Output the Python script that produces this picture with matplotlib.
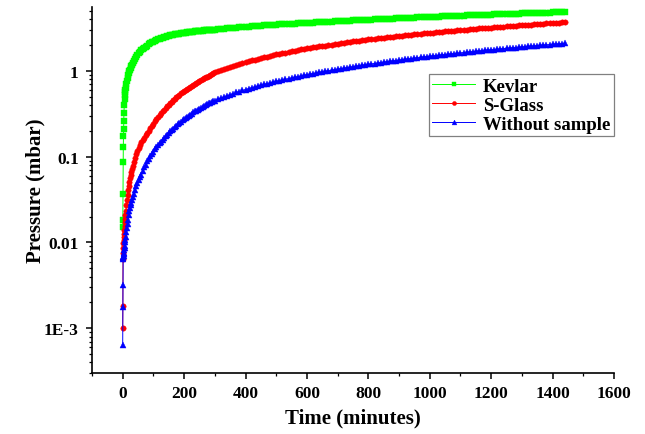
import matplotlib
matplotlib.use("Agg")
import matplotlib.pyplot as plt
import numpy as np

# sampling grid (minutes): fine at start, then every 5, then every 10 min
TIME_EARLY = [0, 0.5, 1, 1.5, 2, 2.5, 3, 3.5, 4, 5, 6, 7, 8, 9, 10, 12, 14, 16, 18, 20,
              22, 24, 26, 28, 30, 33, 36, 40, 44, 48, 52, 56, 60]
TIME_MID = list(range(65, 301, 5))
TIME_LATE = list(range(310, 1441, 10))

# pressure (mbar)
KEVLAR = [
    # early
    0.0150, 0.0185, 0.037, 0.086, 0.13, 0.175, 0.213, 0.26, 0.32, 0.40,
    0.47, 0.52, 0.57, 0.60, 0.63, 0.70, 0.77, 0.83, 0.89, 0.94,
    0.99, 1.04, 1.09, 1.14, 1.18, 1.24, 1.30, 1.38, 1.46, 1.54,
    1.61, 1.67, 1.74,
    # 65..300
    1.80, 1.86, 1.92, 1.98, 2.04, 2.10, 2.15, 2.20, 2.25, 2.29,
    2.33, 2.37, 2.41, 2.45, 2.48, 2.51, 2.54, 2.57, 2.60, 2.62,
    2.64, 2.67, 2.69, 2.71, 2.73, 2.75, 2.77, 2.79, 2.80, 2.82,
    2.84, 2.85, 2.87, 2.88, 2.89, 2.91, 2.92, 2.93, 2.94, 2.96,
    2.97, 2.98, 2.99, 3.00, 3.01, 3.02, 3.03, 3.04,
    # 310..1440
    3.07, 3.10, 3.12, 3.14, 3.17, 3.19, 3.21, 3.24, 3.26, 3.28,
    3.30, 3.32, 3.34, 3.36, 3.38, 3.39, 3.41, 3.43, 3.45, 3.47,
    3.49, 3.50, 3.52, 3.53, 3.55, 3.57, 3.58, 3.60, 3.61, 3.63,
    3.65, 3.66, 3.68, 3.70, 3.71, 3.73, 3.75, 3.76, 3.78, 3.80,
    3.82, 3.83, 3.85, 3.86, 3.88, 3.90, 3.91, 3.93, 3.94, 3.96,
    3.98, 3.99, 4.01, 4.02, 4.04, 4.06, 4.07, 4.09, 4.10, 4.12,
    4.14, 4.15, 4.17, 4.18, 4.20, 4.21, 4.23, 4.24, 4.26, 4.27,
    4.28, 4.30, 4.31, 4.33, 4.34, 4.35, 4.37, 4.38, 4.40, 4.41,
    4.42, 4.44, 4.45, 4.47, 4.48, 4.49, 4.51, 4.52, 4.54, 4.55,
    4.56, 4.58, 4.59, 4.60, 4.62, 4.63, 4.64, 4.65, 4.67, 4.68,
    4.69, 4.71, 4.72, 4.73, 4.75, 4.76, 4.77, 4.78, 4.80, 4.81,
    4.83, 4.84, 4.85, 4.87,
]

SGLASS = [
    0.0010, 0.0018, 0.0064, 0.0075, 0.0087, 0.0098, 0.0108, 0.0117, 0.0125, 0.0140,
    0.0155, 0.0175, 0.019, 0.021, 0.023, 0.027, 0.031, 0.036, 0.041, 0.046,
    0.051, 0.056, 0.061, 0.066, 0.071, 0.079, 0.087, 0.097, 0.107, 0.117,
    0.127, 0.137, 0.147,
    0.157, 0.167, 0.177, 0.188, 0.200, 0.214, 0.228, 0.243, 0.258, 0.274,
    0.290, 0.306, 0.322, 0.338, 0.354, 0.370, 0.387, 0.404, 0.421, 0.439,
    0.457, 0.475, 0.493, 0.511, 0.529, 0.547, 0.565, 0.583, 0.601, 0.619,
    0.637, 0.655, 0.673, 0.691, 0.709, 0.727, 0.745, 0.763, 0.782, 0.801,
    0.821, 0.841, 0.861, 0.881, 0.901, 0.921, 0.941, 0.961,
    0.99, 1.02, 1.05, 1.08, 1.12, 1.15, 1.18, 1.21, 1.24, 1.27,
    1.30, 1.33, 1.36, 1.39, 1.42, 1.44, 1.47, 1.50, 1.53, 1.56,
    1.59, 1.61, 1.64, 1.67, 1.70, 1.72, 1.75, 1.78, 1.80, 1.83,
    1.86, 1.88, 1.91, 1.93, 1.96, 1.98, 2.01, 2.03, 2.06, 2.08,
    2.11, 2.13, 2.16, 2.18, 2.21, 2.23, 2.26, 2.28, 2.31, 2.33,
    2.35, 2.38, 2.40, 2.42, 2.45, 2.47, 2.49, 2.51, 2.54, 2.56,
    2.58, 2.60, 2.63, 2.65, 2.67, 2.69, 2.71, 2.74, 2.76, 2.78,
    2.80, 2.82, 2.85, 2.87, 2.89, 2.91, 2.93, 2.96, 2.98, 3.00,
    3.02, 3.04, 3.06, 3.08, 3.11, 3.13, 3.15, 3.17, 3.19, 3.21,
    3.23, 3.25, 3.27, 3.29, 3.32, 3.34, 3.36, 3.38, 3.40, 3.42,
    3.44, 3.46, 3.48, 3.50, 3.53, 3.55, 3.57, 3.59, 3.61, 3.63,
    3.65, 3.67, 3.69, 3.71,
]

WITHOUT = [
    0.00063, 0.00175, 0.0032, 0.0064, 0.0066, 0.0068, 0.0070, 0.0073, 0.0076, 0.0081,
    0.0086, 0.0092, 0.0100, 0.0108, 0.0116, 0.0132, 0.0149, 0.0165, 0.0182, 0.021,
    0.023, 0.025, 0.027, 0.029, 0.031, 0.034, 0.037, 0.041, 0.045, 0.049,
    0.054, 0.058, 0.062,
    0.068, 0.075, 0.081, 0.088, 0.094, 0.101, 0.108, 0.115, 0.122, 0.129,
    0.136, 0.143, 0.150, 0.157, 0.165, 0.173, 0.181, 0.189, 0.197, 0.205,
    0.213, 0.221, 0.229, 0.238, 0.247, 0.256, 0.265, 0.274, 0.283, 0.292,
    0.301, 0.310, 0.319, 0.328, 0.337, 0.346, 0.355, 0.364, 0.373, 0.382,
    0.391, 0.400, 0.409, 0.418, 0.426, 0.435, 0.443, 0.452,
    0.468, 0.483, 0.499, 0.514, 0.530, 0.545, 0.561, 0.576, 0.592, 0.607,
    0.622, 0.637, 0.651, 0.666, 0.681, 0.696, 0.711, 0.725, 0.740, 0.755,
    0.770, 0.785, 0.799, 0.814, 0.829, 0.844, 0.859, 0.873, 0.888, 0.903,
    0.918, 0.932, 0.947, 0.961, 0.976, 0.990, 1.005, 1.019, 1.034, 1.048,
    1.063, 1.077, 1.092, 1.106, 1.121, 1.135, 1.150, 1.164, 1.179, 1.193,
    1.208, 1.222, 1.237, 1.251, 1.266, 1.280, 1.295, 1.309, 1.324, 1.338,
    1.353, 1.367, 1.382, 1.396, 1.411, 1.425, 1.440, 1.454, 1.469, 1.483,
    1.497, 1.511, 1.525, 1.539, 1.553, 1.567, 1.581, 1.595, 1.609, 1.623,
    1.637, 1.651, 1.665, 1.679, 1.693, 1.707, 1.721, 1.735, 1.749, 1.763,
    1.777, 1.791, 1.805, 1.819, 1.833, 1.847, 1.861, 1.875, 1.889, 1.903,
    1.917, 1.931, 1.945, 1.959, 1.973, 1.987, 2.001, 2.015, 2.029, 2.043,
    2.057, 2.071, 2.085, 2.099,
]

NAMES = ["Kevlar", "S-Glass", "Without sample"]
COLORS = ["#00ff00", "#ff0000", "#0000ff"]
MARKERS = ["s", "o", "^"]
YTICKS = [1e-3, 1e-2, 1e-1, 1]
YTICKLABELS = ["1E-3", "0.01", "0.1", "1"]
XTICKS = list(range(0, 1601, 200))

plt.rcParams["font.family"] = ["Liberation Serif", "DejaVu Serif"]
plt.rcParams["font.weight"] = "bold"

t = np.array(TIME_EARLY + TIME_MID + TIME_LATE, float)

fig = plt.figure(figsize=(6.45, 4.35), dpi=100)
ax = fig.add_axes([0.1426, 0.140, 0.8094, 0.8416])

for vals, name, c, m, ms in zip([KEVLAR, SGLASS, WITHOUT], NAMES, COLORS, MARKERS, [3.7, 3.9, 4.6]):
    ax.plot(t, vals, color=c, lw=0.7, marker=m, ms=ms, mec=c, mfc=c, mew=0.3, label=name)

ax.set_yscale("log")
ax.set_xlim(-100, 1600)
ax.set_ylim(3.0e-4, 5.57)
ax.set_xticks(XTICKS)
ax.set_xticks(range(-100, 1601, 200), minor=True)
ax.set_yticks(YTICKS)
ax.set_yticklabels(YTICKLABELS)
ax.yaxis.set_minor_locator(matplotlib.ticker.LogLocator(base=10, subs=np.arange(2, 10)))
ax.yaxis.set_minor_formatter(matplotlib.ticker.NullFormatter())

for s in ("top", "right"):
    ax.spines[s].set_visible(False)
for s in ("left", "bottom"):
    ax.spines[s].set_linewidth(1.2)
ax.tick_params(which="major", direction="out", length=4.5, width=1.1, labelsize=12.5, pad=4)
ax.tick_params(which="minor", direction="out", length=2.5, width=0.9)
ax.tick_params(axis="y", which="major", pad=5)

ax.set_xlabel("Time (minutes)", fontsize=15, fontweight="bold", labelpad=5)
ax.set_ylabel("Pressure (mbar)", fontsize=15, fontweight="bold", labelpad=-1)

leg = ax.legend(loc="upper right", bbox_to_anchor=(1.0, 0.818), fancybox=False,
                edgecolor="#808080", framealpha=1, fontsize=13.5, handlelength=2.3,
                markerscale=0.75, borderpad=0.2, labelspacing=0.1, handletextpad=0.4,
                borderaxespad=0)
leg.get_frame().set_linewidth(0.9)

fig.savefig("out.png", dpi=100, facecolor="white")
